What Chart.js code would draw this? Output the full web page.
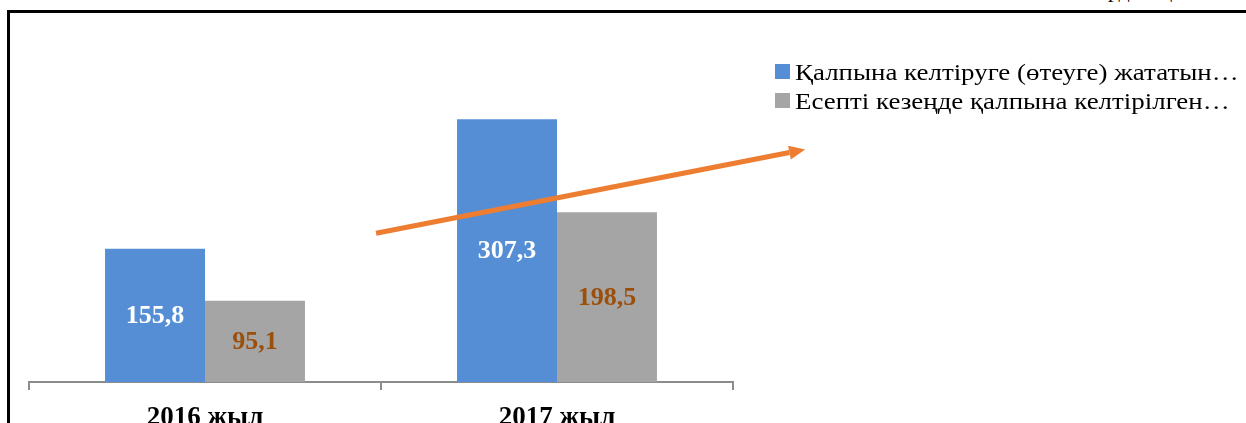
<!DOCTYPE html>
<html>
<head>
<meta charset="utf-8">
<script src="https://cdn.jsdelivr.net/npm/chart.js@4.4.1/dist/chart.umd.min.js"></script>
<style>
    html, body { margin: 0; padding: 0; background: #fff; overflow: hidden; width: 1246px; height: 423px; }
    #frame { position: absolute; left: 7px; top: 10px; width: 1260px; height: 440px; border-top: 3px solid #000; border-left: 3px solid #000; }
    #unit { position: absolute; left: 1083px; top: -23px; font: 22px "Liberation Serif", "Times New Roman", serif; color: #000; }
    #box { position: absolute; left: 0; top: 0; width: 1246px; height: 450px; }
    #legend { position: absolute; left: 775px; top: 58px; font: 23px "Liberation Serif", "Times New Roman", serif; color: #000; }
    #legend div { height: 29px; line-height: 29px; white-space: nowrap; }
    #legend .sw { display: inline-block; width: 15px; height: 15px; margin-right: 5px; vertical-align: 1px; }
    #legend .tx { display: inline-block; transform: scaleX(1.17); transform-origin: left center; }
</style>
</head>
<body>
<div id="unit">млрд. теңге</div>
<div id="frame"></div>
<div id="box"><canvas id="chart" width="1246" height="450"></canvas></div>
<div id="legend"></div>
<script>
    // == DỮ LIỆU ==
    const categories = ['2016 жыл', '2017 жыл'];
    const seriesNames = ['Қалпына келтіруге (өтеуге) жататын…', 'Есепті кезеңде қалпына келтірілген…'];
    const toRecover = [155.8, 307.3];
    const recovered = [95.1, 198.5];
    const seriesColors = ['#558ed5', '#a5a5a5'];
    const labelColors = ['#ffffff', '#9c4f0a'];
    // mũi tên xu hướng: [chỉ số loại, giá trị]
    const arrowFrom = [0.486, 174];
    const arrowTo = [1.705, 272];

    const serif = '"Liberation Serif", "Times New Roman", serif';

    // nhãn giá trị ở giữa cột
    const barLabels = {
        id: 'barLabels',
        afterDatasetsDraw(chart) {
            const ctx = chart.ctx;
            ctx.save();
            ctx.font = 'bold 26px ' + serif;
            ctx.textAlign = 'center';
            ctx.textBaseline = 'middle';
            chart.data.datasets.forEach((ds, i) => {
                chart.getDatasetMeta(i).data.forEach((bar, j) => {
                    ctx.fillStyle = labelColors[i];
                    const txt = ds.data[j].toFixed(1).replace('.', ',');
                    ctx.fillText(txt, bar.x, (bar.y + bar.base) / 2 + 1);
                });
            });
            ctx.restore();
        }
    };

    // mũi tên màu cam
    const trendArrow = {
        id: 'trendArrow',
        afterDatasetsDraw(chart) {
            const x = chart.scales.x, y = chart.scales.y, ctx = chart.ctx;
            const x1 = x.getPixelForValue(arrowFrom[0]), y1 = y.getPixelForValue(arrowFrom[1]);
            const x2 = x.getPixelForValue(arrowTo[0]), y2 = y.getPixelForValue(arrowTo[1]);
            const ang = Math.atan2(y2 - y1, x2 - x1);
            const head = 16;
            ctx.save();
            ctx.strokeStyle = '#ed7d31';
            ctx.fillStyle = '#ed7d31';
            ctx.lineWidth = 5;
            ctx.beginPath();
            ctx.moveTo(x1, y1);
            ctx.lineTo(x2 - head * Math.cos(ang), y2 - head * Math.sin(ang));
            ctx.stroke();
            ctx.beginPath();
            ctx.moveTo(x2, y2);
            ctx.lineTo(x2 - head * Math.cos(ang) + 7 * Math.sin(ang), y2 - head * Math.sin(ang) - 7 * Math.cos(ang));
            ctx.lineTo(x2 - head * Math.cos(ang) - 7 * Math.sin(ang), y2 - head * Math.sin(ang) + 7 * Math.cos(ang));
            ctx.closePath();
            ctx.fill();
            ctx.restore();
        }
    };

    const ctx = document.getElementById('chart').getContext('2d');
    const chart = new Chart(ctx, {
        type: 'bar',
        data: {
            labels: categories,
            datasets: [
                { label: seriesNames[0], data: toRecover, backgroundColor: seriesColors[0] },
                { label: seriesNames[1], data: recovered, backgroundColor: seriesColors[1] }
            ]
        },
        options: {
            responsive: false,
            animation: false,
            layout: { padding: { left: 29, right: 513, top: 40, bottom: 0 } },
            datasets: { bar: { categoryPercentage: 0.568, barPercentage: 1.0 } },
            plugins: { legend: { display: false }, tooltip: { enabled: false } },
            scales: {
                x: {
                    grid: { display: true, drawOnChartArea: false, drawTicks: true, tickLength: 8, color: '#8c8c8c', lineWidth: 2, offset: true },
                    border: { display: true, color: '#8c8c8c', width: 2 },
                    ticks: { color: '#000', font: { family: serif, size: 27, weight: 'bold' }, padding: 12 },
                    afterFit(scale) { scale.height = 68; }
                },
                y: { display: false, min: 0, max: 400 }
            }
        },
        plugins: [barLabels, trendArrow]
    });

    // chú thích tự làm
    const legend = document.getElementById('legend');
    seriesNames.forEach((name, i) => {
        const row = document.createElement('div');
        row.innerHTML = '<span class="sw" style="background:' + seriesColors[i] + '"></span><span class="tx">' + name + '</span>';
        legend.appendChild(row);
    });
</script>
</body>
</html>
